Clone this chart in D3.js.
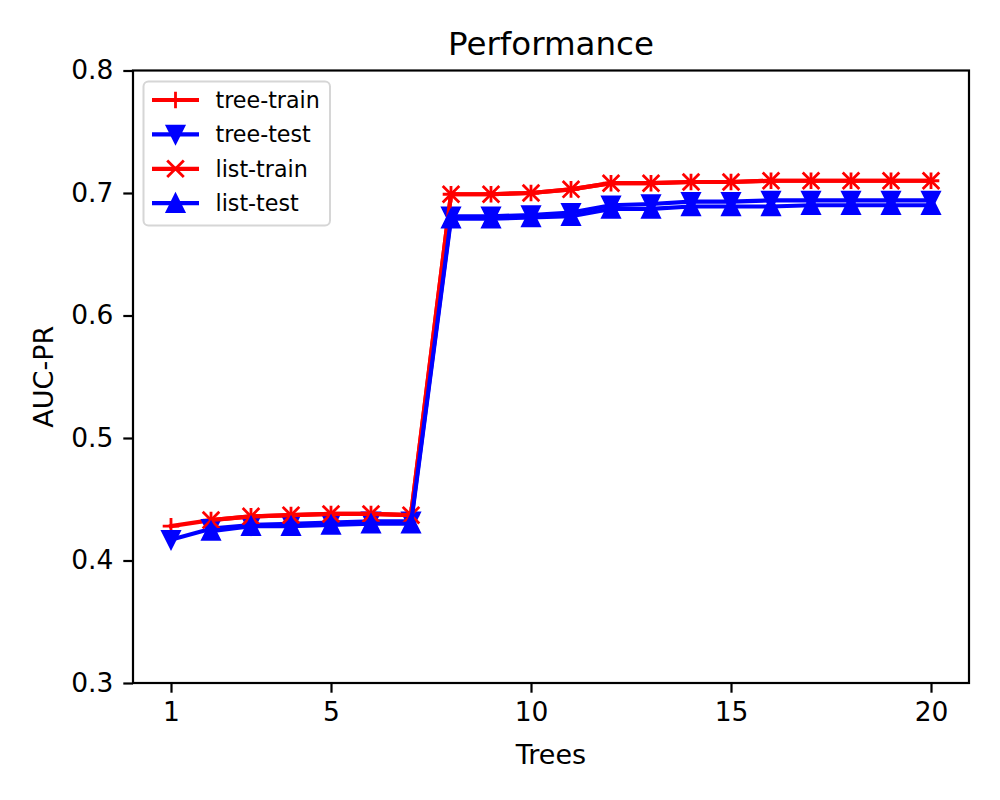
<!DOCTYPE html>
<html>
<head>
<meta charset="utf-8">
<script src="https://cdn.jsdelivr.net/npm/d3@7/dist/d3.min.js"></script>
<style>
  body { margin: 0; background: #fff; }
  text { font-family: "DejaVu Sans", sans-serif; }
</style>
</head>
<body>
<div id="myDiv"></div>
<script>
// number of trees on the x axis (the list runs start from 2)
let treeX = [1, 2, 3, 4, 5, 6, 7, 8, 9, 10, 11, 12, 13, 14, 15, 16, 17, 18, 19, 20];
let listX = [2, 3, 4, 5, 6, 7, 8, 9, 10, 11, 12, 13, 14, 15, 16, 17, 18, 19, 20];

// AUC-PR values
let treeTrain = [0.428, 0.433, 0.436, 0.437, 0.438, 0.438, 0.437, 0.699, 0.699, 0.700, 0.703, 0.708, 0.708, 0.709, 0.709, 0.710, 0.710, 0.710, 0.710, 0.710];
let treeTest = [0.417, 0.426, 0.429, 0.430, 0.431, 0.432, 0.432, 0.681, 0.681, 0.682, 0.684, 0.690, 0.691, 0.693, 0.693, 0.694, 0.694, 0.694, 0.694, 0.694];
let listTrain = [0.433, 0.436, 0.437, 0.438, 0.438, 0.437, 0.699, 0.699, 0.700, 0.703, 0.708, 0.708, 0.709, 0.709, 0.710, 0.710, 0.710, 0.710, 0.710];
let listTest = [0.424, 0.428, 0.428, 0.429, 0.430, 0.430, 0.679, 0.679, 0.680, 0.681, 0.687, 0.687, 0.689, 0.689, 0.689, 0.690, 0.690, 0.690, 0.690];

// tick labels
let xTicks = [1, 5, 10, 15, 20];
let yTicks = [0.3, 0.4, 0.5, 0.6, 0.7, 0.8];

let seriesNames = ["tree-train", "tree-test", "list-train", "list-test"];
let seriesColors = ["#ff0000", "#0000ff", "#ff0000", "#0000ff"];

// marker shapes, half size ~8.3px
let m = 8.3;
let markerPaths = [
  "M" + (-m) + ",0H" + m + "M0," + (-m) + "V" + m,                          // +
  "M0," + m + "L" + (-m) + "," + (-m) + "L" + m + "," + (-m) + "Z",          // triangle down
  "M" + (-m) + "," + (-m) + "L" + m + "," + m + "M" + (-m) + "," + m + "L" + m + "," + (-m), // x
  "M0," + (-m) + "L" + (-m) + "," + m + "L" + m + "," + m + "Z"              // triangle up
];
let markerFilled = [false, true, false, true];

let series = [
  { xs: treeX, ys: treeTrain },
  { xs: treeX, ys: treeTest },
  { xs: listX, ys: listTrain },
  { xs: listX, ys: listTest }
];

let svgContainer = d3.select("#myDiv").append("svg")
  .attr("width", 1000)
  .attr("height", 800);

// plot area
let plotLeft = 133, plotRight = 969, plotTop = 70.5, plotBottom = 683;

let x = d3.scaleLinear().domain([0.05, 20.95]).range([plotLeft, plotRight]);
let y = d3.scaleLinear().domain([0.3, 0.8]).range([plotBottom, plotTop]);

// clip for the lines
svgContainer.append("clipPath").attr("id", "plotClip")
  .append("rect")
  .attr("x", plotLeft).attr("y", plotTop)
  .attr("width", plotRight - plotLeft).attr("height", plotBottom - plotTop);

let plot = svgContainer.append("g").attr("clip-path", "url(#plotClip)");

let line = d3.line()
  .x(function (d) { return x(d[0]); })
  .y(function (d) { return y(d[1]); });

// draw each series: line first, then its markers
series.forEach(function (s, k) {
  let pts = s.xs.map(function (v, i) { return [v, s.ys[i]]; });

  plot.append("path")
    .datum(pts)
    .attr("d", line)
    .attr("fill", "none")
    .attr("stroke", seriesColors[k])
    .attr("stroke-width", 4.2)
    .attr("stroke-linejoin", "round")
    .attr("stroke-linecap", "square");

  plot.selectAll(".mk" + k).data(pts).enter().append("path")
    .attr("class", "mk" + k)
    .attr("transform", function (d) { return "translate(" + x(d[0]) + "," + y(d[1]) + ")"; })
    .attr("d", markerPaths[k])
    .attr("fill", markerFilled[k] ? seriesColors[k] : "none")
    .attr("stroke", seriesColors[k])
    .attr("stroke-width", 2.8);
});

// axes
let xAxis = d3.axisBottom(x).tickValues(xTicks).tickSize(9.7).tickPadding(9);
let yAxis = d3.axisLeft(y).tickValues(yTicks).tickFormat(d3.format(".1f")).tickSize(9.7).tickPadding(10);

let gx = svgContainer.append("g")
  .attr("transform", "translate(0," + plotBottom + ")")
  .call(xAxis);
let gy = svgContainer.append("g")
  .attr("transform", "translate(" + plotLeft + ",0)")
  .call(yAxis);

[gx, gy].forEach(function (g) {
  g.select(".domain").remove();
  g.selectAll(".tick line").attr("stroke", "#000").attr("stroke-width", 2.2);
  g.selectAll(".tick text")
    .attr("fill", "#000")
    .attr("font-family", "DejaVu Sans")
    .attr("font-size", "26.5px");
});

// frame around the plot
svgContainer.append("rect")
  .attr("x", plotLeft).attr("y", plotTop)
  .attr("width", plotRight - plotLeft).attr("height", plotBottom - plotTop)
  .attr("fill", "none")
  .attr("stroke", "#000")
  .attr("stroke-width", 2.2);

// title and axis labels
svgContainer.append("text")
  .attr("x", (plotLeft + plotRight) / 2).attr("y", 55)
  .attr("text-anchor", "middle")
  .attr("font-size", "32.5px")
  .text("Performance");

svgContainer.append("text")
  .attr("x", (plotLeft + plotRight) / 2).attr("y", 764)
  .attr("text-anchor", "middle")
  .attr("font-size", "27px")
  .text("Trees");

svgContainer.append("text")
  .attr("transform", "translate(53," + ((plotTop + plotBottom) / 2) + ") rotate(-90)")
  .attr("text-anchor", "middle")
  .attr("font-size", "27px")
  .text("AUC-PR");

// legend box
let legend = svgContainer.append("g");
legend.append("rect")
  .attr("x", 143.5).attr("y", 81.5)
  .attr("width", 186.5).attr("height", 144)
  .attr("rx", 5).attr("ry", 5)
  .attr("fill", "#fff").attr("fill-opacity", 0.8)
  .attr("stroke", "#d6d6d6")
  .attr("stroke-width", 2);

let legendRows = legend.selectAll(".row").data(seriesNames).enter().append("g")
  .attr("class", "row")
  .attr("transform", function (d, i) { return "translate(0," + (100 + i * 34.4) + ")"; });

legendRows.append("line")
  .attr("x1", 152).attr("x2", 199)
  .attr("y1", 0).attr("y2", 0)
  .attr("stroke", function (d, i) { return seriesColors[i]; })
  .attr("stroke-width", 4.2);

legendRows.append("path")
  .attr("transform", "translate(175.5,0)")
  .attr("d", function (d, i) { return markerPaths[i]; })
  .attr("fill", function (d, i) { return markerFilled[i] ? seriesColors[i] : "none"; })
  .attr("stroke", function (d, i) { return seriesColors[i]; })
  .attr("stroke-width", 2.8);

legendRows.append("text")
  .attr("x", 215.5).attr("y", 8)
  .attr("font-size", "22.2px")
  .text(function (d) { return d; });
</script>
</body>
</html>
